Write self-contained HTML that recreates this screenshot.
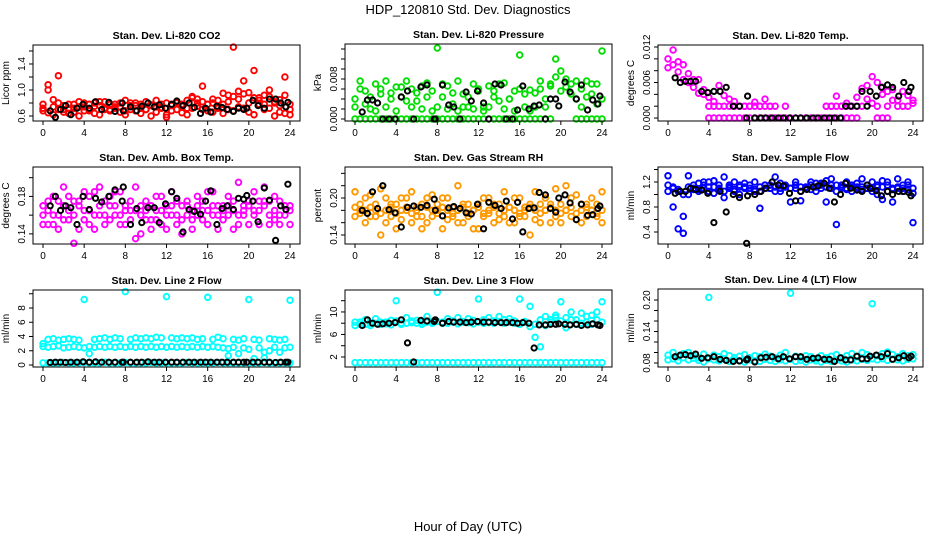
<!DOCTYPE html>
<html><head><meta charset="utf-8">
<style>
html,body{margin:0;padding:0;background:#fff;}
svg{display:block;font-family:"Liberation Sans",Arial,sans-serif;}
</style></head>
<body>
<svg id="chart" width="936" height="540" viewBox="0 0 936 540" xmlns="http://www.w3.org/2000/svg">
<text x="468" y="14" text-anchor="middle" font-size="13">HDP_120810  Std. Dev. Diagnostics</text>
<text x="468" y="531" text-anchor="middle" font-size="13">Hour of Day (UTC)</text>
</svg>
<script>
// ---- data ----
const xTicks = [0,4,8,12,16,20,24];
const blackHours = [0.7,1.2,1.7,2.2,2.7,3.3,3.9,4.5,5.1,5.7,6.4,7.0,7.7,7.8,8.5,9.1,9.6,10.2,10.8,11.3,11.9,12.5,13.0,13.6,14.2,14.7,15.3,15.8,16.3,16.9,17.4,17.9,18.5,19.0,19.5,19.8,20.4,20.9,21.5,22.0,22.6,23.1,23.6,23.8];

const co2A = [0.72,1.08,0.85,1.22,0.70,0.78,0.66,0.74,0.80,0.68,0.75,0.82,0.72,0.70,0.78,0.74,0.68,0.80,0.76,0.72,0.70,0.77,0.84,0.73,0.62,0.78,0.80,0.75,0.72,0.88,0.80,1.06,0.78,0.86,0.74,0.95,0.92,1.66,0.98,1.14,0.96,1.30,0.88,0.92,1.00,0.80,0.85,1.20,0.70];
const co2B = [0.68,0.65,0.62,0.70,0.66,0.64,0.72,0.60,0.68,0.70,0.64,0.62,0.70,0.68,0.72,0.66,0.62,0.70,0.68,0.64,0.70,0.60,0.66,0.72,0.58,0.68,0.70,0.65,0.62,0.72,0.75,0.70,0.68,0.66,0.72,0.64,0.70,0.68,0.74,0.72,0.66,0.62,0.78,0.70,0.72,0.60,0.66,0.64,0.62];
const co2C = [0.78,1.00,0.74,0.80,0.76,0.72,0.78,0.82,0.74,0.78,0.80,0.76,0.82,0.78,0.74,0.80,0.84,0.76,0.80,0.78,0.82,0.76,0.74,0.78,0.80,0.76,0.82,0.78,0.84,0.90,0.86,0.82,0.78,0.80,0.84,0.78,0.82,0.90,0.86,0.94,0.80,0.88,0.84,0.78,0.90,0.82,0.76,0.92,0.78];
const co2Black = [0.68,0.58,0.70,0.76,0.62,0.72,0.78,0.72,0.82,0.70,0.81,0.67,0.80,0.68,0.74,0.68,0.75,0.80,0.74,0.77,0.72,0.78,0.83,0.76,0.80,0.73,0.64,0.72,0.66,0.75,0.73,0.70,0.67,0.72,0.70,0.72,0.84,0.76,0.72,0.86,0.86,0.80,0.74,0.81];

const pressA = [0.004,0.0076,0.0056,0.002,0.007,0.005,0.0076,0.004,0.0064,0.0044,0.0076,0.006,0.0036,0.002,0.0072,0.0056,0.0142,0.0044,0.0066,0.003,0.0076,0.005,0.0024,0.007,0.0056,0.0024,0.0066,0.0044,0.0036,0.0072,0.004,0.0056,0.0128,0.005,0.0058,0.0024,0.0076,0.004,0.007,0.012,0.0096,0.008,0.005,0.0076,0.006,0.0076,0.005,0.007,0.0136];
const pressB = [0.0024,0.006,0.003,0.0044,0.0016,0.006,0.0024,0.0052,0.0016,0.0064,0.0036,0.0024,0.0052,0.0066,0.0044,0.0016,0.0024,0.007,0.002,0.0052,0.0016,0.0024,0.0044,0.002,0.006,0.0016,0.0024,0.0056,0.007,0.002,0.004,0.0016,0.006,0.0024,0.0016,0.0052,0.006,0.0024,0.0066,0.0084,0.0056,0.0064,0.007,0.004,0.0024,0.0044,0.007,0.003,0.004];
const pressZero = [0,0,0,0,0,0,0,0,0,0,0,0,0,0,0,0,0,0,0,0,0,0,0,0,0,0,0,0,0,0,0,0,0,0,0,0,0,0,0,null,null,null,null,0,0,0,0,0,0];
const pressBlack = [0.0014,0.0038,0.0038,0.0032,0,0,0,0.0044,0.0056,0,0.0064,0.0068,0,0,0.0068,0.0028,0.0024,0,0.0054,0.0036,0.0056,0.0032,0,0.007,0.0068,0,0,0.0018,0.0066,0.002,0.0026,0.0028,0,0.004,0.004,0.0026,0.0074,0.0054,0.004,0.0068,0.0018,0.0038,0.003,0.0046];

const tempA = [0.010,0.0115,0.0095,0.009,0.0075,0.0065,0.0065,0.0048,0.0035,0.0028,0.0055,0.0038,0.0032,0.0028,0.002,0.002,0.002,0.0027,0.002,0.0032,0.002,0.002,null,0.002,null,null,null,null,null,null,null,0.002,0.002,0.0037,0.002,0.0025,0.002,0.0035,0.0050,0.0055,0.0070,0.0060,0.0052,0.0045,0.0048,0.0030,0.0045,0.0038,0.0030];
const tempB = [0.0085,0.009,0.0078,0.0065,0.0060,0.0052,0.0042,0.0040,0.0020,0.002,0.002,0.002,0.002,0.002,0.002,0.002,0.002,0.002,0.002,0.002,0.002,null,null,null,null,null,null,null,null,null,null,0.002,0.002,0.002,0.002,0.002,0.002,0.002,0.002,0.0032,0.0025,0.002,0.0040,0.0020,0.0030,0.0020,0.002,0.002,0.0025];
const tempZero = [null,null,null,null,null,null,null,null,0,0,0,0,0,0,0,0,0,0,0,0,0,0,0,0,0,0,0,0,0,0,0,0,0,0,0,0,0,0,null,null,null,0,0,0,null,null,null,null,null];
const tempBlack = [0.0068,0.006,0.0062,0.0062,0.0062,0.0045,0.0043,0.0045,0.0045,0.0052,0.002,0.002,0,0.0037,0,0,0,0,0,0,0,0,0,0,0,0,0,0,0,0,0.002,0.002,0.002,0.0045,0.002,0.0045,0.0037,0.0052,0.0056,0.0052,0.0037,0.006,0.0045,0.0052];

const ambA = [0.17,0.15,0.18,0.16,0.19,0.155,0.175,0.145,0.165,0.18,0.16,0.19,0.15,0.17,0.16,0.185,0.15,0.175,0.19,0.14,0.165,0.155,0.18,0.15,0.17,0.185,0.16,0.14,0.175,0.155,0.18,0.165,0.15,0.185,0.17,0.155,0.18,0.145,0.195,0.165,0.17,0.185,0.15,0.175,0.16,0.18,0.15,0.17,0.165];
const ambB = [0.15,0.175,0.16,0.145,0.17,0.18,0.13,0.17,0.155,0.15,0.185,0.16,0.175,0.155,0.185,0.15,0.17,0.165,0.135,0.16,0.175,0.145,0.165,0.18,0.145,0.16,0.175,0.155,0.17,0.145,0.16,0.175,0.185,0.16,0.145,0.17,0.16,0.175,0.15,0.16,0.15,0.165,0.175,0.19,0.15,0.165,0.175,0.16,0.15];
const ambC = [0.16,0.165,0.15,0.175,0.155,0.165,0.16,0.175,0.185,0.165,0.145,0.17,0.16,0.18,0.17,0.16,0.165,0.155,0.165,0.17,0.155,0.17,0.155,0.165,0.16,0.17,0.15,0.17,0.16,0.165,0.17,0.155,0.165,0.17,0.16,0.165,0.17,0.165,0.16,0.17,0.175,0.16,0.165,0.17,0.175,0.155,0.16,0.17,0.17];
const ambBlack = [0.17,0.18,0.165,0.17,0.168,0.15,0.18,0.166,0.178,0.174,0.18,0.187,0.175,0.19,0.15,0.167,0.152,0.168,0.168,0.152,0.172,0.185,0.178,0.142,0.166,0.164,0.161,0.175,0.186,0.150,0.167,0.170,0.166,0.178,0.177,0.181,0.175,0.153,0.189,0.176,0.133,0.170,0.166,0.193];

const rhA = [0.21,0.18,0.20,0.17,0.19,0.215,0.16,0.19,0.15,0.20,0.18,0.21,0.17,0.19,0.16,0.205,0.18,0.15,0.20,0.17,0.22,0.16,0.19,0.18,0.15,0.20,0.175,0.19,0.165,0.21,0.185,0.16,0.20,0.17,0.14,0.21,0.19,0.18,0.16,0.215,0.19,0.22,0.17,0.205,0.16,0.19,0.18,0.17,0.21];
const rhB = [0.17,0.19,0.16,0.205,0.17,0.14,0.2,0.17,0.19,0.165,0.2,0.16,0.185,0.15,0.2,0.17,0.19,0.2,0.165,0.185,0.16,0.19,0.17,0.15,0.19,0.17,0.2,0.16,0.19,0.17,0.16,0.2,0.17,0.185,0.19,0.165,0.16,0.2,0.19,0.17,0.16,0.18,0.2,0.165,0.19,0.17,0.2,0.19,0.16];
const rhC = [0.185,0.175,0.18,0.185,0.18,0.175,0.18,0.185,0.175,0.18,0.185,0.175,0.18,0.17,0.185,0.18,0.175,0.185,0.18,0.175,0.18,0.185,0.175,0.18,0.185,0.175,0.18,0.185,0.175,0.18,0.185,0.18,0.175,0.18,0.185,0.18,0.175,0.18,0.185,0.18,0.175,0.18,0.185,0.175,0.18,0.185,0.18,0.175,0.18];
const rhBlack = [0.18,0.175,0.21,0.183,0.22,0.181,0.176,0.153,0.185,0.187,0.185,0.188,0.198,0.180,0.171,0.184,0.186,0.183,0.176,0.174,0.19,0.15,0.193,0.188,0.183,0.195,0.166,0.193,0.145,0.183,0.184,0.209,0.205,0.183,0.177,0.200,0.205,0.192,0.165,0.19,0.172,0.173,0.183,0.187];

const flowA = [1.3,1.1,0.45,1.0,1.3,1.15,1.18,1.2,1.12,1.22,1.15,1.28,1.1,1.2,1.12,1.18,1.05,1.2,0.78,1.15,1.1,1.28,1.18,1.12,1.1,1.2,0.9,1.1,1.2,1.18,1.15,1.22,1.25,0.52,1.15,1.2,1.12,1.18,1.25,1.1,1.2,1.15,1.22,1.2,0.88,1.25,1.15,1.2,0.55];
const flowB = [1.15,0.8,1.05,0.38,1.0,1.08,1.05,1.1,1.2,1.02,1.1,1.05,1.15,1.08,1.0,1.1,1.15,1.08,1.05,1.1,1.15,1.05,1.1,1.15,0.88,1.1,1.05,1.12,1.08,1.05,1.1,0.88,1.15,1.05,1.1,1.08,1.05,1.12,1.08,1.1,1.05,1.12,0.92,1.05,1.08,1.1,1.05,1.08,1.02];
const flowC = [1.05,1.12,1.08,0.65,1.12,1.1,1.08,1.15,1.05,1.12,1.08,0.95,1.12,1.05,1.15,1.12,1.1,1.05,1.12,1.15,1.1,1.12,1.05,1.12,1.1,1.15,1.12,1.1,1.15,1.12,1.18,1.12,1.1,1.15,1.12,1.1,1.15,1.1,1.12,1.15,1.1,1.0,1.12,1.15,1.1,1.12,1.1,1.15,1.1];
const flowBlack = [1.02,1.05,1.05,1.1,1.08,1.07,1.02,0.55,1.05,0.72,1.0,0.95,0.22,0.98,1.0,1.05,1.1,1.2,1.15,1.14,1.02,0.9,1.05,1.08,1.12,1.14,1.18,1.1,0.88,1.0,1.18,1.1,1.07,1.05,1.15,1.1,1.06,0.98,1.05,1.0,1.05,1.05,1.03,0.98];

const l2A = [3.0,3.6,3.7,3.5,3.6,3.7,3.6,3.5,9.2,1.6,3.6,3.7,3.8,3.6,3.8,3.7,10.3,3.6,3.8,3.7,3.8,3.7,3.9,3.8,9.6,3.8,3.7,3.8,3.7,3.8,3.6,3.7,9.5,3.6,3.9,3.7,1.3,3.6,3.5,3.7,9.2,3.6,3.5,1.0,3.7,3.6,3.5,3.6,9.1];
const l2B = [2.6,2.5,2.6,2.7,2.4,2.5,2.6,2.5,2.4,2.6,2.5,2.6,2.5,2.6,2.5,2.6,2.5,2.6,2.5,2.6,2.5,2.6,2.5,2.6,2.5,2.6,2.5,2.6,2.5,2.6,2.5,2.6,2.5,2.6,2.5,2.4,2.3,2.5,1.6,2.4,2.2,0.9,2.4,1.8,2.0,2.5,1.8,2.4,2.5];
const l2Z = [0.3,0.3,0.25,0.3,0.35,0.3,0.3,0.3,0.35,0.3,0.3,0.3,0.4,0.3,0.3,0.3,0.35,0.3,0.3,0.3,0.3,0.35,0.3,0.3,0.3,0.3,0.3,0.3,0.35,0.3,0.3,0.3,0.3,0.3,0.35,0.3,0.3,0.3,0.3,0.3,0.3,0.3,0.3,0.35,0.3,0.3,0.3,0.3,0.3];
const l2Black = [0.35,0.4,0.4,0.35,0.4,0.4,0.45,0.4,0.45,0.4,0.4,0.4,0.4,0.4,0.4,0.4,0.4,0.45,0.4,0.4,0.4,0.4,0.4,0.4,0.4,0.4,0.4,0.4,0.4,0.4,0.4,0.4,0.4,0.4,0.4,0.4,0.4,0.4,0.4,0.4,0.35,0.4,0.4,0.4];

const l3A = [8.2,7.8,8.6,8.0,8.8,8.2,7.9,8.5,12.0,8.0,9.0,8.1,8.5,8.2,9.2,8.3,13.5,8.0,8.8,8.4,9.0,8.2,8.8,8.5,12.3,8.6,9.0,8.4,9.2,8.6,8.8,8.4,12.3,8.3,11.0,5.5,3.8,9.2,8.6,9.4,11.8,9.0,10.0,8.6,9.8,8.2,9.4,10.0,11.8];
const l3B = [7.6,8.2,7.8,7.6,8.0,7.8,8.2,7.7,8.4,7.8,8.0,8.4,8.0,7.8,8.2,8.0,8.3,8.2,8.0,8.2,7.9,8.3,8.1,7.9,8.2,8.0,8.1,8.0,8.3,8.0,8.2,8.0,7.8,8.2,7.4,7.8,8.6,7.6,8.2,9.0,8.4,7.2,8.6,7.8,8.0,9.2,7.8,8.6,8.2];
const l3Z = [1.0,1.0,1.0,1.0,1.0,1.0,1.0,1.0,1.0,1.0,1.0,1.0,1.0,1.0,1.0,1.0,1.0,1.0,1.0,1.0,1.0,1.0,1.0,1.0,1.0,1.0,1.0,1.0,1.0,1.0,1.0,1.0,1.0,1.0,1.0,1.0,1.0,1.0,1.0,1.0,1.0,1.0,1.0,1.0,1.0,1.0,1.0,1.0,1.0];
const l3Black = [7.6,8.6,8.0,7.8,7.9,8.0,8.1,8.6,4.5,1.1,8.5,8.4,8.3,8.6,8.0,8.3,8.2,8.2,8.1,8.2,8.3,8.2,8.2,8.1,8.1,8.1,8.1,8.0,8.1,8.0,3.6,7.7,7.7,7.8,7.8,7.9,7.8,7.7,7.8,7.6,7.7,7.9,7.7,7.6];

const l4A = [0.095,0.10,0.092,0.098,0.10,0.094,0.09,0.097,0.205,0.095,0.092,0.098,0.094,0.09,0.093,0.096,0.09,0.094,0.092,0.097,0.093,0.09,0.095,0.1,0.213,0.093,0.09,0.094,0.092,0.088,0.094,0.09,0.093,0.096,0.09,0.094,0.098,0.092,0.1,0.096,0.193,0.094,0.098,0.101,0.096,0.092,0.098,0.094,0.096];
const l4B = [0.086,0.088,0.084,0.09,0.086,0.089,0.085,0.082,0.088,0.086,0.084,0.088,0.083,0.086,0.084,0.082,0.086,0.084,0.083,0.087,0.085,0.083,0.086,0.084,0.087,0.083,0.085,0.082,0.086,0.084,0.082,0.085,0.083,0.086,0.084,0.082,0.086,0.084,0.087,0.085,0.088,0.086,0.088,0.085,0.087,0.086,0.084,0.087,0.088];
const l4Black = [0.092,0.095,0.096,0.094,0.097,0.089,0.09,0.092,0.087,0.085,0.083,0.084,0.086,0.088,0.082,0.09,0.091,0.092,0.088,0.092,0.088,0.092,0.092,0.087,0.089,0.09,0.087,0.087,0.083,0.09,0.086,0.086,0.093,0.088,0.088,0.093,0.095,0.092,0.098,0.087,0.09,0.094,0.090,0.093];

const co2Ticks = [0.6,0.8,1.0,1.2,1.4,1.6], co2Labels = ["0.6","1.0","1.4"];
const pressTicks = [0,0.002,0.004,0.006,0.008,0.010,0.012,0.014], pressLabels = ["0.000","0.008"];
const tempTicks = [0,0.002,0.004,0.006,0.008,0.010,0.012], tempLabels = ["0.000","0.006","0.012"];
const ambTicks = [0.14,0.16,0.18,0.20], ambLabels = ["0.14","0.18"];
const rhTicks = [0.14,0.16,0.18,0.20,0.22,0.24], rhLabels = ["0.14","0.20"];
const flowTicks = [0.4,0.6,0.8,1.0,1.2,1.4], flowLabels = ["0.4","0.8","1.2"];
const l2Ticks = [0,2,4,6,8,10], l2Labels = ["0","2","4","6","8"];
const l3Ticks = [2,4,6,8,10,12], l3Labels = ["2","6","10"];
const l4Ticks = [0.08,0.10,0.12,0.14,0.16,0.18,0.20], l4Labels = ["0.08","0.14","0.20"];

// ---- drawing ----
const NS = "http://www.w3.org/2000/svg";
const svg = document.getElementById("chart");
function mk(tag, attrs, parent){
  const e = document.createElementNS(NS, tag);
  for (const k in attrs) e.setAttribute(k, attrs[k]);
  (parent||svg).appendChild(e);
  return e;
}
const panels = [
  {key:"co2",title:"Stan. Dev. Li-820 CO2",ylab:"Licor ppm",x:33,y:45,w:267,h:76,dom:[0.523,1.692],ticks:co2Ticks,labels:co2Labels,col:"#ff0000",series:[co2B,co2C,co2A],black:co2Black},
  {key:"pressure",title:"Stan. Dev. Li-820 Pressure",ylab:"kPa",x:345,y:44,w:267,h:77,dom:[-0.0004,0.015],ticks:pressTicks,labels:pressLabels,col:"#00dd00",series:[pressZero,pressB,pressA],black:pressBlack},
  {key:"temp",title:"Stan. Dev. Li-820 Temp.",ylab:"degrees C",x:658,y:45,w:265,h:76,dom:[-0.0005,0.01234],ticks:tempTicks,labels:tempLabels,col:"#ff00ff",series:[tempZero,tempB,tempA],black:tempBlack},
  {key:"ambtemp",title:"Stan. Dev. Amb. Box Temp.",ylab:"degrees C",x:33,y:167,w:267,h:77,dom:[0.1292,0.2114],ticks:ambTicks,labels:ambLabels,col:"#ff00ff",series:[ambC,ambB,ambA],black:ambBlack},
  {key:"rh",title:"Stan. Dev. Gas Stream RH",ylab:"percent",x:345,y:167,w:267,h:77,dom:[0.1254,0.2503],ticks:rhTicks,labels:rhLabels,col:"#ff9900",series:[rhC,rhB,rhA],black:rhBlack},
  {key:"sampleflow",title:"Stan. Dev. Sample Flow",ylab:"ml/min",x:658,y:167,w:265,h:77,dom:[0.208,1.44],ticks:flowTicks,labels:flowLabels,col:"#0000ff",series:[flowC,flowB,flowA],black:flowBlack},
  {key:"line2",title:"Stan. Dev. Line 2 Flow",ylab:"ml/min",x:33,y:290,w:267,h:77,dom:[-0.28,10.53],ticks:l2Ticks,labels:l2Labels,col:"#00ffff",series:[l2Z,l2B,l2A],black:l2Black},
  {key:"line3",title:"Stan. Dev. Line 3 Flow",ylab:"ml/min",x:345,y:290,w:267,h:77,dom:[0.22,13.9],ticks:l3Ticks,labels:l3Labels,col:"#00ffff",series:[l3Z,l3B,l3A],black:l3Black},
  {key:"line4",title:"Stan. Dev. Line 4 (LT) Flow",ylab:"ml/min",x:658,y:289,w:265,h:78,dom:[0.0724,0.221],ticks:l4Ticks,labels:l4Labels,col:"#00ffff",series:[l4B,l4A],black:l4Black}
];
panels.forEach(p=>{
  const g = mk("g",{});
  
  
  const xs = h => p.x + 10 + (h/24)*(p.w-20);
  const ys = v => p.y + p.h - (v - p.dom[0])/(p.dom[1]-p.dom[0])*p.h;
  const t = mk("text",{x:p.x+p.w/2,y:p.y-6,"text-anchor":"middle","font-size":"10.5","font-weight":"bold"},g);
  t.textContent = p.title;
  
  
  const pg = mk("g",{fill:"none"},g);
  
  
  p.series.forEach(s=>{
    s.forEach((v,i)=>{
      if (v===null) return;
      const c = mk("circle",{cx:xs(i*24/(s.length-1)).toFixed(1),cy:ys(v).toFixed(1),r:2.8,stroke:p.col,"stroke-width":1.9},pg);
      
      
    });
  });
  p.black.forEach((v,i)=>{
    const c = mk("circle",{cx:xs(blackHours[i]).toFixed(1),cy:ys(v).toFixed(1),r:2.6,stroke:"#000","stroke-width":2},pg);
    
    
  });
  const b = mk("rect",{x:p.x,y:p.y,width:p.w,height:p.h,fill:"none",stroke:"#000","stroke-width":1},g);
  
  
  const xa = mk("g",{"font-size":"10"},g);
  
  
  xTicks.forEach(h=>{
    const X = xs(h);
    mk("line",{x1:X,x2:X,y1:p.y+p.h,y2:p.y+p.h+4,stroke:"#000"},xa);
    const l = mk("text",{x:X,y:p.y+p.h+15,"text-anchor":"middle"},xa);
    l.textContent = h;
  });
  const ya = mk("g",{"font-size":"10"},g);
  
  
  p.ticks.forEach(v=>{
    const Y = ys(v);
    mk("line",{x1:p.x-4,x2:p.x,y1:Y,y2:Y,stroke:"#000"},ya);
  });
  p.labels.forEach(s=>{
    const Y = ys(parseFloat(s));
    const l = mk("text",{x:p.x-8,y:Y,"text-anchor":"middle",transform:`rotate(-90 ${p.x-8} ${Y})`},ya);
    l.textContent = s;
  });
  const yl = mk("text",{x:p.x-24,y:p.y+p.h/2,"text-anchor":"middle","font-size":"10",transform:`rotate(-90 ${p.x-24} ${p.y+p.h/2})`},g);
  yl.textContent = p.ylab;
  
  
});
</script>
</body></html>
